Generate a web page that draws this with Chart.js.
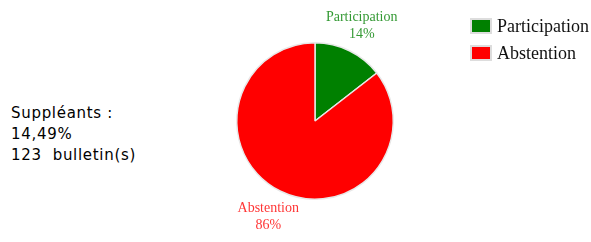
<!DOCTYPE html>
<html lang="fr">
<head>
  <meta charset="UTF-8" />
  <title>Suppléants</title>
  <style>
    * { box-sizing: border-box; margin: 0; padding: 0; }
    body, html { width: 591px; height: 242px; background: #fff; overflow: hidden; }
    #wrap { position: relative; width: 591px; height: 242px; }
    #info {
      position: absolute; left: 11px; top: 103px;
      font-family: Verdana, 'DejaVu Sans', sans-serif;
      font-size: 15px; line-height: 21px; color: #000;
      letter-spacing: 0.7px;
      white-space: pre;
    }
    canvas { position: absolute; left: 0; top: 0; }
  </style>
</head>
<body>
  <div id="wrap">
    <div id="info">Suppléants :
14,49%
123  bulletin(s)</div>
    <canvas id="pie" width="591" height="242"></canvas>
  </div>

  <script src="https://cdn.jsdelivr.net/npm/chart.js"></script>
  <script>
    const categories = ['Participation', 'Abstention'];
    const values = [14.49, 85.51];
    const labelsPct = ['14%', '86%'];
    const colors = ['#008000', '#ff0000'];

    // etiquettes autour du camembert + légende à droite
    const outsideLabels = {
      id: 'outsideLabels',
      afterDraw(chart) {
        const c = chart.ctx;
        const arcs = chart.getDatasetMeta(0).data;
        c.save();
        c.textAlign = 'center';
        c.textBaseline = 'middle';
        c.font = '14px "Liberation Serif", "Times New Roman", serif';
        arcs.forEach((arc, i) => {
          const p = arc.getProps(['x', 'y', 'startAngle', 'endAngle', 'outerRadius'], true);
          const mid = (p.startAngle + p.endAngle) / 2;
          const r = p.outerRadius + 28;
          const x = p.x + Math.cos(mid) * r;
          const y = p.y + Math.sin(mid) * r;
          c.fillStyle = colors[i];
          c.globalAlpha = 0.8;
          c.fillText(categories[i], x, y - 8);
          c.fillText(labelsPct[i], x, y + 9);
        });
        c.globalAlpha = 1;

        // légende
        c.textAlign = 'left';
        c.font = '18px "Liberation Serif", "Times New Roman", serif';
        categories.forEach((name, i) => {
          const y = 26 + i * 27;
          c.fillStyle = '#ddd';
          c.fillRect(470, y - 8, 22, 16);
          c.fillStyle = colors[i];
          c.fillRect(472, y - 6, 18, 12);
          c.fillStyle = '#111';
          c.fillText(name, 497, y + 1);
        });
        c.restore();
      }
    };

    new Chart(document.getElementById('pie'), {
      type: 'pie',
      data: {
        labels: categories,
        datasets: [{
          data: values,
          backgroundColor: colors,
          borderColor: '#e8e8e8',
          borderWidth: 1.5
        }]
      },
      options: {
        responsive: false,
        animation: false,
        layout: { padding: { left: 236, right: 197, top: 42, bottom: 42 } },
        plugins: { legend: { display: false }, tooltip: { enabled: false } }
      },
      plugins: [outsideLabels]
    });
  </script>
</body>
</html>
